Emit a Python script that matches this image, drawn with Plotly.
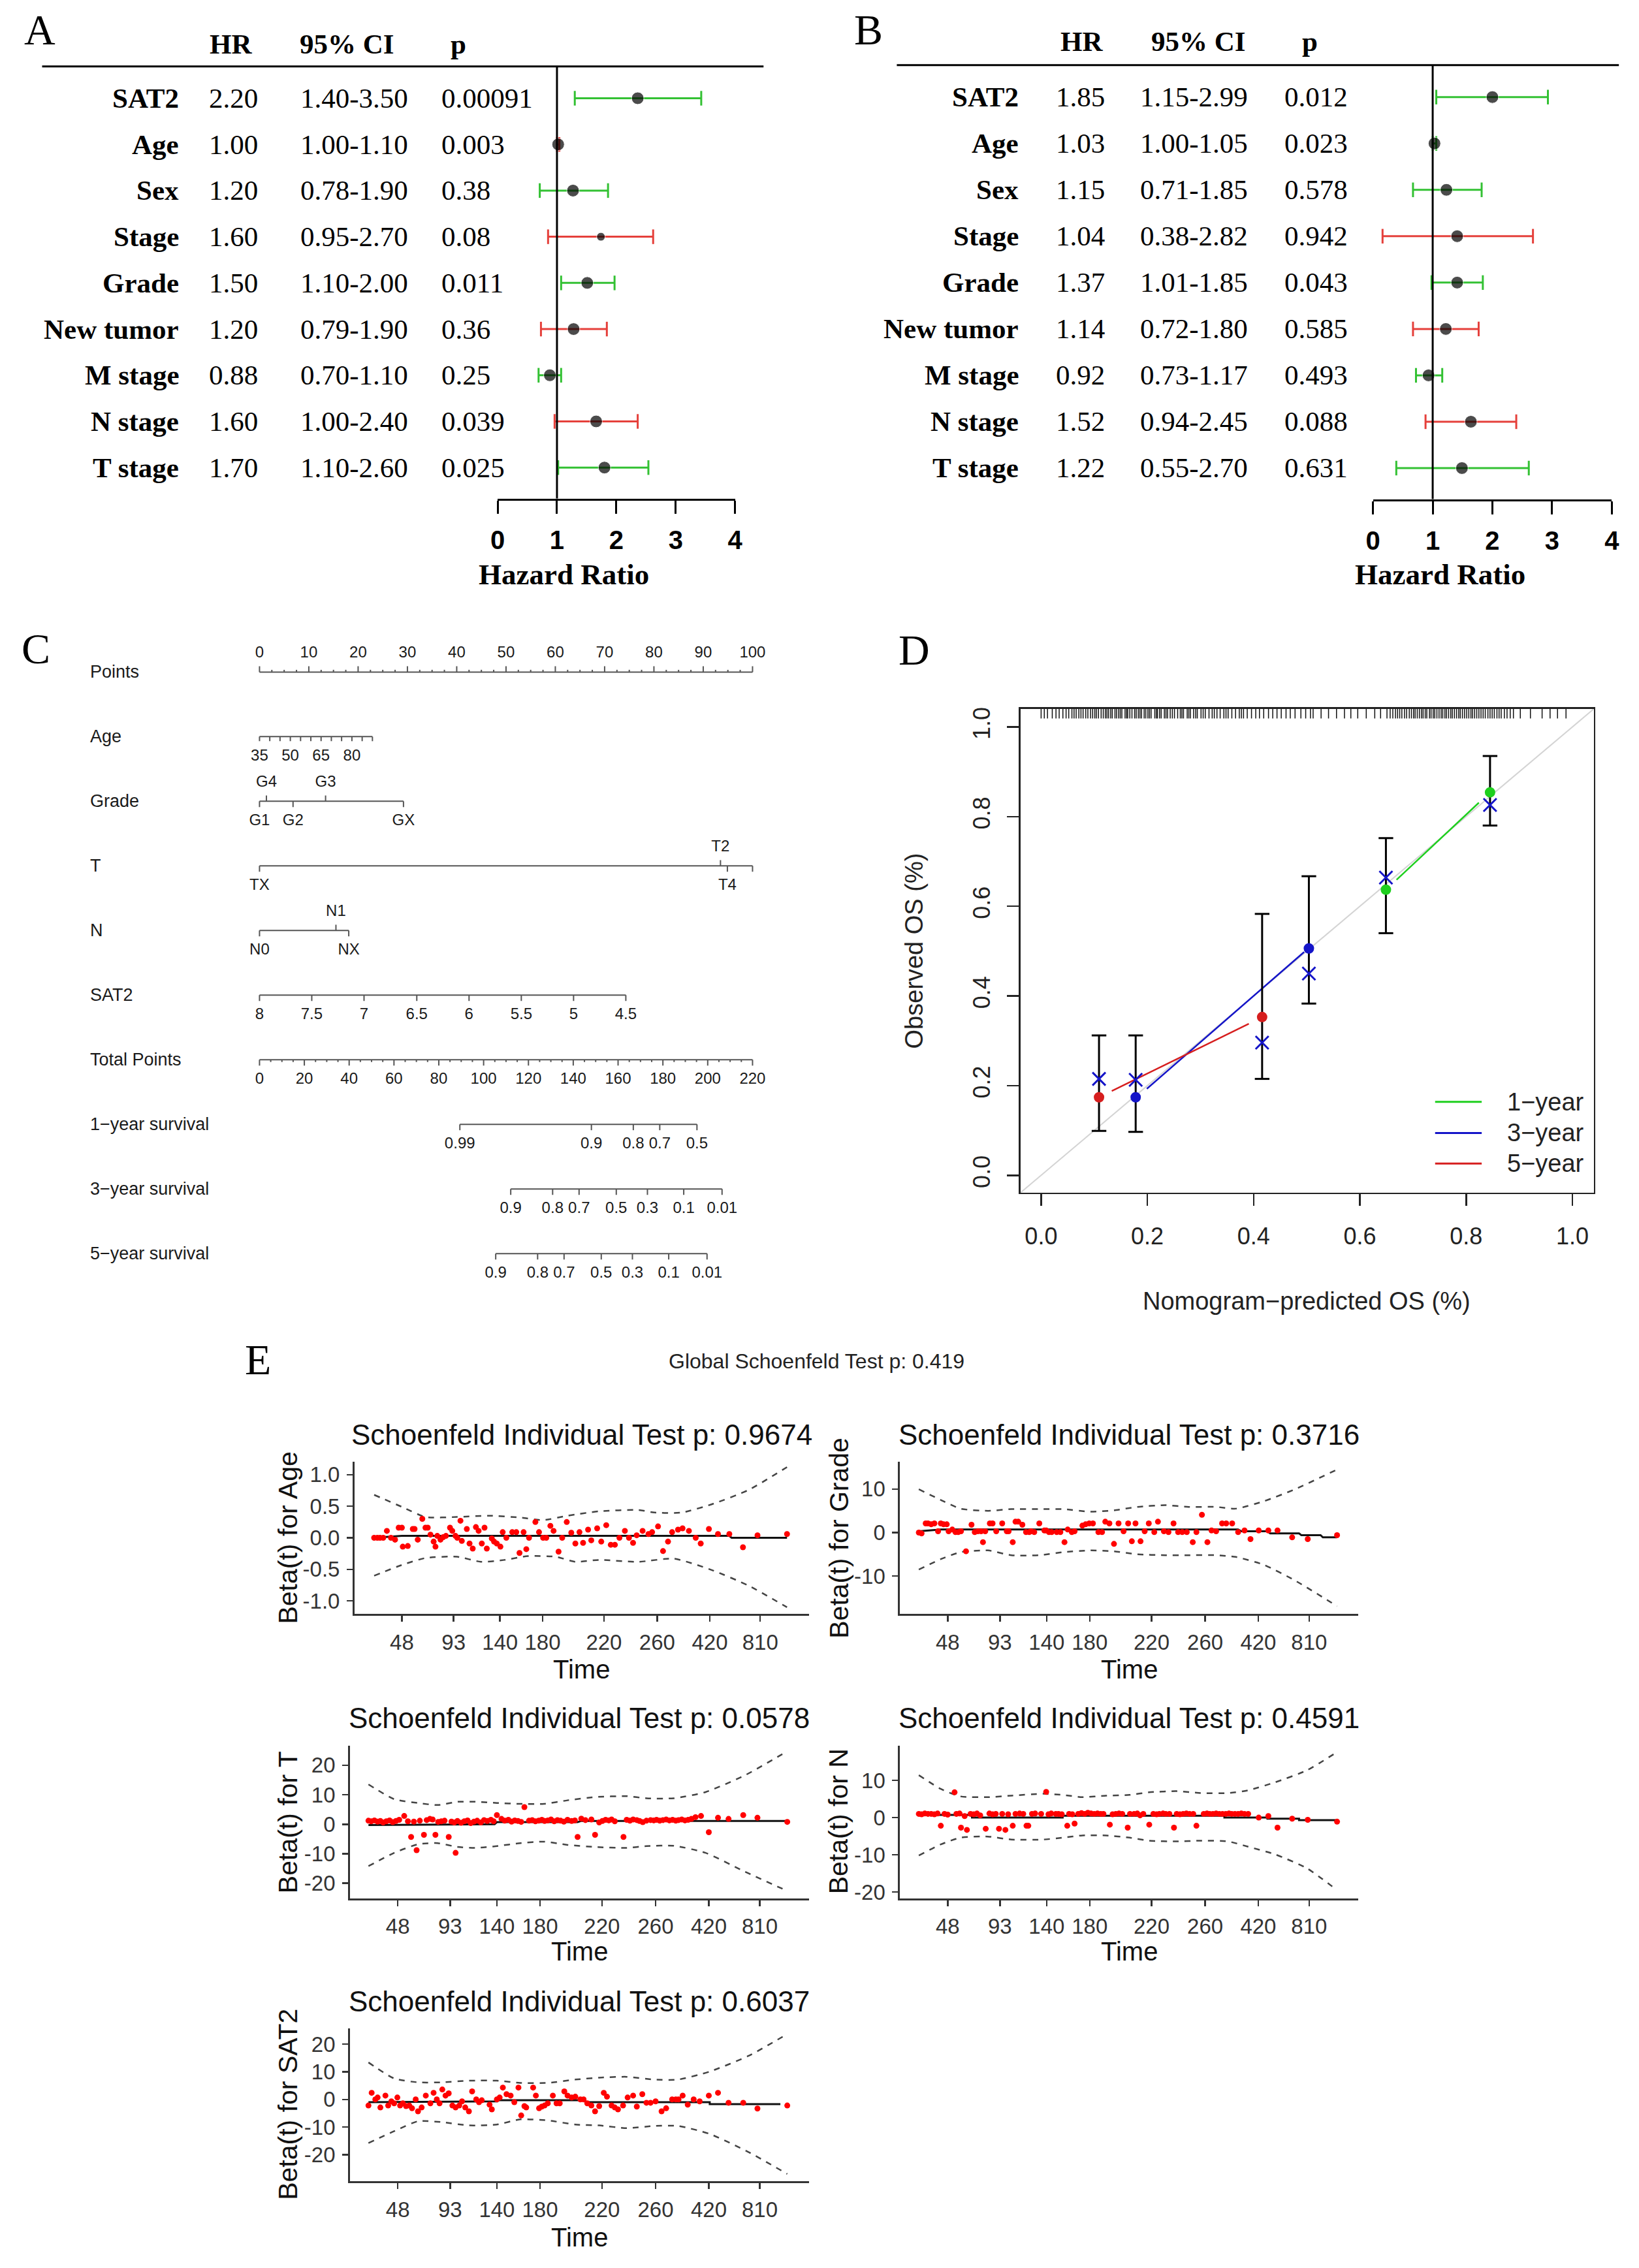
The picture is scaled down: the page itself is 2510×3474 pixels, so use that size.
import plotly.graph_objects as go

W, H = 2510, 3474
SERIF = "Liberation Serif, Times New Roman, serif"
SANS = "Liberation Sans, Arial, sans-serif"

# ======================= DATA =======================
# ---- Panels A / B : forest plots ----
forest_vars = ["SAT2", "Age", "Sex", "Stage", "Grade", "New tumor", "M stage", "N stage", "T stage"]
hr_ticks = [0, 1, 2, 3, 4]

A_hr_text = ["2.20", "1.00", "1.20", "1.60", "1.50", "1.20", "0.88", "1.60", "1.70"]
A_ci_text = ["1.40-3.50", "1.00-1.10", "0.78-1.90", "0.95-2.70", "1.10-2.00", "0.79-1.90", "0.70-1.10", "1.00-2.40", "1.10-2.60"]
A_p_text = ["0.00091", "0.003", "0.38", "0.08", "0.011", "0.36", "0.25", "0.039", "0.025"]
A_est = [2.36, 1.02, 1.27, 1.74, 1.51, 1.28, 0.88, 1.66, 1.80]
A_lo = [1.30, 1.00, 0.71, 0.85, 1.07, 0.73, 0.69, 0.96, 1.02]
A_hi = [3.43, 1.04, 1.86, 2.62, 1.97, 1.84, 1.07, 2.36, 2.54]
A_sig = ["g", "r", "g", "r", "g", "r", "g", "r", "g"]

B_hr_text = ["1.85", "1.03", "1.15", "1.04", "1.37", "1.14", "0.92", "1.52", "1.22"]
B_ci_text = ["1.15-2.99", "1.00-1.05", "0.71-1.85", "0.38-2.82", "1.01-1.85", "0.72-1.80", "0.73-1.17", "0.94-2.45", "0.55-2.70"]
B_p_text = ["0.012", "0.023", "0.578", "0.942", "0.043", "0.585", "0.493", "0.088", "0.631"]
B_est = [2.00, 1.03, 1.23, 1.41, 1.41, 1.22, 0.93, 1.64, 1.49]
B_lo = [1.06, 1.00, 0.67, 0.16, 0.98, 0.67, 0.72, 0.88, 0.39]
B_hi = [2.93, 1.06, 1.82, 2.68, 1.84, 1.77, 1.16, 2.40, 2.61]
B_sig = ["g", "g", "g", "r", "g", "r", "g", "r", "g"]

# ---- Panel C : nomogram ----
nomo_rows = ["Points", "Age", "Grade", "T", "N", "SAT2", "Total Points",
             "1\u2212year survival", "3\u2212year survival", "5\u2212year survival"]
points_major = [0, 10, 20, 30, 40, 50, 60, 70, 80, 90, 100]
age_vals = [35, 40, 45, 50, 55, 60, 65, 70, 75, 80, 85, 90]
age_pts = [0, 2.08, 4.16, 6.25, 8.33, 10.41, 12.49, 14.57, 16.65, 18.74, 20.82, 22.9]
age_labelled = [35, 50, 65, 80]
grade_levels = ["G1", "G4", "G2", "G3", "GX"]
grade_pts = [0, 1.4, 6.8, 13.4, 29.2]
t_levels = ["TX", "T2", "T4", ""]
t_pts = [0, 93.5, 94.9, 100]
n_levels = ["N0", "N1", "NX"]
n_pts = [0, 15.5, 18.1]
sat2_vals = ["8", "7.5", "7", "6.5", "6", "5.5", "5", "4.5"]
sat2_pts = [0, 10.6, 21.2, 31.9, 42.5, 53.1, 63.7, 74.3]
total_major = [0, 20, 40, 60, 80, 100, 120, 140, 160, 180, 200, 220]
surv1_lab = ["0.99", "0.9", "0.8", "0.7", "0.5"]
surv1_tp = [89.4, 148.1, 166.8, 178.6, 195.2]
surv3_lab = ["0.9", "0.8", "0.7", "0.5", "0.3", "0.1", "0.01"]
surv3_tp = [112.1, 130.8, 142.6, 159.2, 173.1, 189.3, 206.4]
surv5_lab = ["0.9", "0.8", "0.7", "0.5", "0.3", "0.1", "0.01"]
surv5_tp = [105.4, 124.1, 135.9, 152.5, 166.4, 182.6, 199.7]

# ---- Panel D : calibration ----
cal_ticks = [0.0, 0.2, 0.4, 0.6, 0.8, 1.0]
cal_labels = ["1\u2212year", "3\u2212year", "5\u2212year"]
cal1_pred = [0.649, 0.845]; cal1_obs = [0.637, 0.854]
cal1_lo = [0.540, 0.780]; cal1_hi = [0.752, 0.935]; cal1_corr = [0.664, 0.826]
cal1_line_x = [0.669, 0.824]; cal1_line_y = [0.659, 0.831]
cal3_pred = [0.178, 0.504]; cal3_obs = [0.174, 0.506]
cal3_lo = [0.097, 0.383]; cal3_hi = [0.312, 0.667]; cal3_corr = [0.213, 0.450]
cal3_line_x = [0.199, 0.495]; cal3_line_y = [0.193, 0.498]
cal5_pred = [0.109, 0.416]; cal5_obs = [0.174, 0.353]
cal5_lo = [0.099, 0.215]; cal5_hi = [0.312, 0.583]; cal5_corr = [0.215, 0.296]
cal5_line_x = [0.133, 0.391]; cal5_line_y = [0.188, 0.338]
cal_rug = [0.000, 0.006, 0.012, 0.021, 0.028, 0.034, 0.041, 0.047, 0.052, 0.058, 0.062, 0.066, 0.071, 0.075,
           0.079, 0.084, 0.088, 0.093, 0.097, 0.101, 0.104, 0.108, 0.113, 0.117, 0.121, 0.124, 0.127, 0.131,
           0.134, 0.139, 0.142, 0.146, 0.149, 0.152, 0.158, 0.161, 0.163, 0.167, 0.171, 0.176, 0.179, 0.183,
           0.186, 0.189, 0.194, 0.197, 0.201, 0.204, 0.207, 0.214, 0.217, 0.219, 0.223, 0.226, 0.232, 0.235,
           0.238, 0.243, 0.247, 0.251, 0.257, 0.262, 0.265, 0.268, 0.275, 0.278, 0.281, 0.287, 0.291, 0.294,
           0.301, 0.305, 0.309, 0.316, 0.322, 0.326, 0.331, 0.337, 0.344, 0.348, 0.352, 0.359, 0.366, 0.373,
           0.377, 0.381, 0.388, 0.396, 0.404, 0.411, 0.419, 0.428, 0.436, 0.444, 0.452, 0.461, 0.469, 0.478,
           0.489, 0.498, 0.507, 0.512, 0.527, 0.541, 0.556, 0.571, 0.583, 0.596, 0.612, 0.628, 0.639, 0.651,
           0.657, 0.662, 0.667, 0.671, 0.675, 0.679, 0.684, 0.688, 0.693, 0.697, 0.701, 0.704, 0.708, 0.712,
           0.716, 0.719, 0.723, 0.726, 0.731, 0.734, 0.738, 0.741, 0.745, 0.749, 0.753, 0.756, 0.760, 0.763,
           0.767, 0.771, 0.774, 0.778, 0.782, 0.786, 0.789, 0.793, 0.797, 0.801, 0.805, 0.809, 0.812, 0.816,
           0.820, 0.824, 0.828, 0.832, 0.836, 0.841, 0.845, 0.849, 0.853, 0.858, 0.862, 0.866, 0.872, 0.877,
           0.883, 0.889, 0.902, 0.921, 0.943, 0.958, 0.972, 0.988]

# ---- Panel E : Schoenfeld residuals (x = transformed time, 0-100) ----
E_tick_pos = [10.4, 21.8, 32.0, 41.4, 54.9, 66.6, 78.2, 89.3]
E_tick_txt = ["48", "93", "140", "180", "220", "260", "420", "810"]
E_global_p = "0.419"

E1_p = "0.9674"
E1_t = [4.3, 5.0, 5.6, 6.3, 7.1, 8.0, 8.9, 9.7, 10.4, 10.6, 11.7, 12.8, 13.2, 13.9, 14.9, 15.6, 16.1, 16.7,
        17.4, 17.8, 18.2, 18.9, 19.5, 20.1, 21.0, 21.5, 22.2, 22.6, 23.3, 23.6, 24.7, 25.3, 26.0, 26.7, 27.3,
        28.0, 28.6, 29.1, 30.2, 30.7, 31.3, 32.1, 32.6, 33.4, 34.7, 35.6, 36.3, 37.2, 37.8, 38.4, 39.8, 40.6,
        41.5, 42.2, 43.1, 43.8, 44.9, 45.7, 46.7, 47.7, 48.6, 49.5, 50.3, 51.4, 52.1, 53.4, 54.3, 55.4, 56.4,
        57.3, 58.3, 59.5, 60.4, 61.3, 62.1, 63.4, 64.7, 65.5, 66.8, 67.9, 69.0, 69.9, 71.2, 72.2, 73.6, 75.1,
        76.2, 78.0, 80.0, 82.5, 85.5, 88.7, 95.2]
E1_b = [0, 0, 0, 0, 0.11, 0, -0.03, 0.16, 0.16, -0.14, -0.13, 0.14, 0.14, -0.03, 0.30, 0.16, 0.16, 0.05,
        -0.06, -0.14, 0.03, -0.03, 0.01, 0.03, 0.16, 0.11, 0.03, 0, 0.27, -0.05, 0.14, -0.09, -0.17, 0.17, 0.11,
        -0.09, 0.16, -0.17, -0.01, -0.06, -0.09, -0.14, 0.09, 0, 0.09, 0.09, -0.24, 0.09, -0.18, 0, 0.25, 0.09,
        0, 0, 0.19, 0.11, -0.22, 0, 0.25, 0.08, -0.09, 0.09, -0.08, 0.13, -0.04, 0.15, -0.06, 0.20, -0.11,
        -0.11, 0, 0.11, 0, -0.08, 0.04, 0.11, 0.06, 0.09, 0.18, -0.21, -0.06, 0.09, 0.13, 0.15, 0.11, 0,
        -0.09, 0.14, 0.06, 0.06, -0.15, 0.04, 0.06]
E1_fit_t = [4.3, 10.4, 82.5, 83.0, 95.2]
E1_fit_b = [0.0, 0.03, 0.03, 0.0, 0.0]
E1_up_t = [4.3, 10.4, 15.6, 22.6, 29.5, 36.5, 41.5, 46.9, 53.8, 62.5, 66.0, 72.0, 79.0, 86.8, 95.2]
E1_up_b = [0.68, 0.49, 0.33, 0.33, 0.35, 0.32, 0.28, 0.35, 0.42, 0.44, 0.40, 0.40, 0.54, 0.76, 1.12]
E1_lo_t = [4.3, 10.4, 15.6, 22.6, 27.8, 33.0, 38.2, 44.3, 48.6, 53.8, 62.5, 70.3, 79.0, 86.8, 95.2]
E1_lo_b = [-0.60, -0.43, -0.32, -0.30, -0.38, -0.35, -0.29, -0.30, -0.38, -0.35, -0.38, -0.33, -0.52, -0.76, -1.10]

E2_p = "0.3716"
E2_pts = [(4.1, 0), (4.7, -0.2), (5.6, 2.1), (6.1, 2.1), (6.8, 1.9), (7.5, 2.1), (8.3, 0.3), (8.9, 2.1),
          (9.5, 1.9), (10.2, 1.9), (10.6, 0.3), (11.4, 0.7), (12.1, 0.1), (12.7, 0.1), (13.3, 0.3), (14.4, -4.3),
          (15.6, 1.8), (16.3, 0.1), (17.0, 0.3), (17.7, 0.3), (18.1, -2.2), (18.6, 0.3), (19.6, 2.1), (20.2, 2.1),
          (21.0, 0.3), (22.3, 2.1), (23.3, 0.3), (23.7, 0.3), (24.6, -2.2), (25.2, 2.5), (25.8, 2.5), (26.7, 1.8),
          (27.5, 0.1), (28.2, 0.1), (28.6, 0.3), (29.3, 0.1), (30.4, 2.1), (31.5, 0.5), (31.9, 0.5), (32.5, 0.1),
          (33.1, 0.1), (34.2, 0.1), (35.0, 0.1), (35.9, -2.2), (36.6, 0.7), (37.5, 0.1), (38.1, 0.3), (39.8, 1.6),
          (40.5, 1.9), (41.3, 2.1), (42.1, 2.1), (43.3, 0.1), (44.1, 0.1), (44.8, 2.5), (45.7, 2.1), (46.7, -2.6),
          (47.7, 2.1), (48.8, 0.3), (49.8, 2.1), (50.6, -2.0), (51.4, 2.1), (52.5, -2.0), (53.4, 0.3), (54.3, 2.1),
          (55.5, 0.1), (56.3, 2.5), (57.6, 0.3), (58.6, 0.1), (59.7, 2.1), (60.7, 0.1), (61.6, 0.1), (62.6, 0.1),
          (63.9, -2.2), (64.7, 0.1), (65.9, 4.1), (67.1, -2.2), (68.0, 0.5), (69.0, 0.3), (70.3, 2.1), (71.2, 2.1),
          (72.5, 2.1), (73.8, 0.1), (75.2, 0.5), (76.5, -1.5), (78.3, 0.5), (80.4, 0.5), (82.4, 0.5), (85.6, -1.1),
          (89.0, -1.5), (95.4, -0.6)]
E2_fit_t = [4.1, 9.0, 73.8, 74.5, 80.2, 80.8, 87.1, 87.6, 91.8, 92.3, 95.4]
E2_fit_b = [0.3, 0.7, 0.7, 0.3, 0.3, -0.2, -0.2, -0.6, -0.6, -1.1, -1.1]
E2_band_t = [4.1, 8.9, 13.2, 19.2, 24.3, 30.4, 35.5, 41.5, 46.7, 51.8, 57.9, 63.0, 69.0, 73.3, 79.4, 86.2, 95.4]
E2_up_b = [9.95, 7.5, 5.5, 5.0, 5.4, 5.4, 5.4, 4.8, 5.1, 5.9, 6.3, 5.9, 5.9, 5.5, 7.2, 9.95, 14.5]
E2_lo_b = [-8.5, -6.1, -4.5, -4.1, -5.2, -5.2, -4.5, -4.1, -4.3, -5.0, -5.2, -5.2, -5.2, -5.6, -7.4, -11.0, -16.9]

E3_p = "0.0578"
E3_pts = [(4.0, 1.2), (4.6, 1.0), (5.3, 1.3), (6.0, 0.9), (6.6, 1.1), (7.2, 0.6), (7.9, 1.0), (8.6, 1.3),
          (9.3, 0.7), (10.0, 1.1), (10.7, 1.5), (11.8, 2.8), (12.6, 1.0), (13.3, -4.3), (13.9, 0.9), (14.5, -8.8),
          (15.2, 1.2), (16.1, -3.6), (16.7, 1.4), (17.4, 1.8), (18.0, 1.6), (18.6, -3.6), (19.2, 0.8), (19.9, 1.0),
          (20.6, 1.2), (21.5, -4.3), (22.1, 0.9), (22.7, 0.6), (23.0, -9.7), (23.4, 1.1), (24.2, 0.5), (24.9, 1.0),
          (25.6, 1.3), (26.3, 0.4), (27.0, 0.9), (27.7, 1.2), (28.5, 0.6), (29.2, 1.4), (29.9, 1.1), (30.7, 1.5),
          (31.3, 1.0), (32.0, 3.1), (33.0, 1.8), (33.7, 1.2), (34.5, 1.5), (35.2, 0.9), (35.9, 1.3), (36.6, 1.1),
          (37.3, 0.8), (38.0, 5.8), (39.0, 1.2), (39.7, 1.4), (40.4, 1.0), (41.1, 1.2), (41.8, 1.5), (42.4, 1.1),
          (43.1, 1.3), (43.8, 1.6), (44.5, 1.0), (45.2, 1.4), (45.9, 1.2), (46.6, 0.9), (47.4, 1.5), (48.3, 1.1),
          (49.0, 1.3), (49.6, -4.3), (50.4, 1.9), (51.3, 1.4), (52.6, 1.6), (53.4, -3.6), (54.3, 0.6), (55.0, 1.1),
          (55.7, 1.5), (56.4, 1.3), (57.0, 1.6), (57.7, 1.0), (59.6, -4.3), (60.3, 1.5), (61.0, 1.2), (61.7, 1.6),
          (62.5, 1.4), (63.1, 1.1), (63.8, 0.7), (64.6, 1.2), (65.5, 1.4), (66.2, 1.3), (66.8, 1.5), (67.5, 1.2),
          (68.2, 1.4), (68.9, 1.6), (69.6, 1.3), (70.3, 1.5), (71.0, 1.2), (71.6, 1.4), (72.3, 1.6), (73.0, 1.3),
          (73.7, 1.5), (74.4, 1.8), (75.3, 2.4), (76.5, 2.8), (78.2, -2.7), (80.2, 2.2), (82.5, 1.8), (85.7, 3.1),
          (88.8, 2.2), (95.3, 0.8)]
E3_fit_t = [4.0, 31.5, 32.0, 49.6, 50.3, 95.3]
E3_fit_b = [-0.3, 0.0, 0.7, 0.7, 1.1, 1.1]
E3_band_t = [4.0, 9.6, 14.8, 19.1, 23.4, 27.7, 32.0, 37.1, 42.3, 47.4, 53.4, 60.3, 64.6, 70.6, 77.5, 86.1, 95.3]
E3_up_b = [13.5, 8.5, 7.2, 6.5, 7.6, 7.6, 7.2, 6.9, 6.9, 8.1, 9.2, 9.5, 8.8, 8.8, 10.9, 16.6, 24.7]
E3_lo_b = [-14.2, -9.7, -6.8, -6.4, -7.7, -8.0, -7.4, -6.4, -5.9, -7.0, -7.7, -8.0, -7.4, -7.3, -9.7, -16.1, -22.6]

E4_p = "0.4591"
E4_pts = [(4.1, 1.0), (4.7, 0.9), (5.4, 1.1), (6.1, 1.0), (6.8, 1.0), (7.5, 0.9), (8.2, 1.1), (9.7, 1.0),
          (10.4, 0.8), (12.3, 1.0), (13.0, 1.1), (14.1, 0.4), (15.4, 1.0), (16.1, 0.9), (16.8, 1.1), (17.5, 0.6),
          (19.5, 1.1), (20.2, 0.9), (20.9, 1.0), (22.3, 1.0), (23.6, 0.9), (25.2, 1.0), (26.1, 1.1), (26.9, 1.0),
          (28.8, 1.0), (29.5, 1.1), (30.8, 1.0), (32.4, 0.9), (33.0, 1.1), (34.0, 1.0), (34.6, 1.0), (35.3, 0.9),
          (36.9, 1.0), (37.6, 0.9), (38.9, 1.0), (39.6, 1.2), (40.3, 1.0), (41.0, 1.3), (41.7, 1.1), (42.4, 1.0),
          (43.1, 1.1), (43.8, 1.0), (44.4, 1.0), (46.4, 0.9), (47.1, 1.0), (47.8, 1.1), (48.5, 1.0), (50.2, 1.0),
          (51.1, 1.0), (51.8, 1.1), (52.4, 0.6), (53.1, 1.0), (55.3, 1.0), (56.0, 0.9), (56.6, 1.0), (57.4, 1.1),
          (58.0, 1.0), (58.8, 1.0), (60.4, 1.0), (61.1, 0.9), (61.8, 1.0), (62.5, 1.1), (63.2, 1.0), (64.0, 1.0),
          (66.3, 1.0), (67.0, 1.1), (67.6, 1.0), (68.3, 1.0), (69.0, 1.1), (69.7, 1.0), (70.4, 1.0), (71.1, 1.0),
          (71.8, 1.1), (72.4, 1.0), (73.1, 1.0), (73.8, 1.0), (74.5, 1.1), (75.2, 1.0), (76.0, 1.0),
          (8.9, -2.2), (11.9, 6.8), (13.3, -2.7), (14.6, -3.3), (18.7, -3.0), (21.6, -3.0), (23.0, -3.3),
          (24.6, -2.2), (27.6, -2.2), (28.0, -2.2), (31.9, 6.9), (36.5, -2.2), (38.1, -1.6), (45.8, -1.9),
          (49.7, -2.7), (54.4, -1.9), (59.8, -2.7), (64.7, -2.2), (78.3, 0.0), (80.4, 0.4), (82.4, -2.7),
          (85.6, -0.3), (89.0, -0.6), (95.4, -1.1)]
E4_fit_t = [4.1, 15.7, 15.7, 35.5, 35.5, 70.8, 70.8, 80.2, 80.2, 87.1, 87.1, 95.4]
E4_fit_b = [0.7, 0.7, 0.0, 0.0, 0.5, 0.5, 0.0, 0.0, -0.3, -0.3, -0.7, -0.7]
E4_band_t = [4.1, 8.9, 13.2, 19.2, 24.3, 31.2, 35.5, 39.8, 45.0, 50.1, 54.4, 60.4, 65.6, 71.6, 75.9, 81.9, 88.8, 95.4]
E4_up_b = [11.4, 7.7, 5.7, 5.5, 5.9, 6.4, 6.1, 5.5, 5.9, 6.1, 6.8, 7.1, 6.6, 6.6, 7.3, 9.5, 12.7, 17.6]
E4_lo_b = [-10.2, -7.2, -5.4, -5.1, -5.9, -5.9, -5.4, -4.8, -4.8, -5.4, -6.2, -6.4, -6.2, -6.4, -7.8, -9.9, -13.6, -19.5]

E5_p = "0.6037"
E5_pts = [(4.0, -2.2), (4.7, 2.4), (5.5, 0), (6.0, 0.7), (6.6, -2.9), (7.7, 1.4), (8.3, -2.2), (9.0, -0.7),
          (9.6, -1.4), (10.3, 0.7), (10.9, -2.2), (11.5, -1.4), (12.2, -2.4), (12.9, -2.2), (13.5, -3.2), (14.3, 0),
          (14.8, -4.3), (15.6, -2.9), (16.5, 1.4), (17.5, -1.4), (18.2, 2.4), (18.9, 0), (19.5, -1.4), (20.1, 3.6),
          (20.8, 1.4), (21.5, 2.2), (22.3, -2.2), (23.0, -2.9), (23.8, -2.2), (24.4, -0.7), (25.1, -2.9),
          (25.9, -4.3), (26.6, 2.9), (27.5, 0), (28.1, -1.0), (28.7, -0.3), (30.4, -1.9), (30.9, -3.6), (32.0, 0),
          (32.6, 0.7), (33.3, 4.3), (34.1, 1.9), (35.0, 1.4), (35.8, -1.0), (36.7, 4.3), (37.3, -5.8), (38.0, -2.4),
          (38.4, -2.9), (39.9, 4.3), (40.5, 1.4), (41.2, -3.2), (41.8, -2.6), (42.4, -2.2), (43.1, -1.4), (44.2, 1.4),
          (45.0, -1.4), (45.7, -1.4), (46.7, 2.9), (47.4, 1.4), (48.3, 0.7), (49.1, 1.0), (50.2, 0), (50.9, 0),
          (51.7, -1.4), (52.6, -2.2), (53.4, -4.3), (54.3, -2.4), (55.3, 2.4), (56.0, 1.0), (57.0, -2.2),
          (57.7, -2.9), (58.4, -3.6), (59.5, -2.2), (60.5, 0.7), (61.7, 1.4), (62.5, -2.6), (63.7, 1.9),
          (64.6, -1.2), (65.5, -1.2), (66.6, -0.7), (67.9, -4.3), (68.9, -3.2), (70.2, 0), (71.0, 0), (71.6, 0),
          (72.5, 1.4), (73.6, -1.9), (74.9, 0), (76.2, -0.7), (78.2, 1.4), (80.2, 2.4), (82.5, -1.2), (85.7, -1.2),
          (88.8, -3.3), (95.3, -2.2)]
E5_fit_t = [4.0, 32.0, 32.0, 51.3, 51.3, 78.4, 78.4, 93.8]
E5_fit_b = [-1.0, -0.7, -0.3, -0.3, -1.0, -1.0, -1.7, -1.7]
E5_band_t = [4.0, 9.6, 14.8, 19.9, 25.9, 32.0, 37.1, 43.1, 49.1, 54.3, 60.3, 66.3, 71.5, 78.4, 86.9, 95.3]
E5_up_b = [13.4, 7.6, 6.2, 6.2, 6.8, 6.8, 6.0, 6.0, 7.2, 7.9, 8.2, 7.2, 7.2, 10.1, 15.8, 23.7]
E5_lo_b = [-15.8, -11.5, -7.9, -8.2, -9.4, -9.1, -7.2, -7.6, -9.1, -9.4, -10.4, -9.6, -9.6, -12.5, -19.1, -27.0]

# ======================= STYLE / HELPERS =======================
GREEN = "#33c133"
RED = "#e5403b"
D_GREEN = "#1ecf1e"
D_BLUE = "#1414c8"
D_RED = "#d61e1e"
NOMO = "#555555"

fig = go.Figure()
ann, shp, lay = [], [], {}


def fx(p):
    return p / W


def fy(p):
    return 1 - p / H


def dx(l, r):
    return [l / W, r / W]


def dy(t, b):
    return [1 - b / H, 1 - t / H]


def names(n):
    s = "" if n == 1 else str(n)
    return "x" + s, "y" + s, "xaxis" + s, "yaxis" + s


def text(x, y, s, size, family=SANS, color="black", xanchor="center", yanchor="middle",
         bold=False, angle=0, xref="paper", yref="paper"):
    ann.append(dict(x=x, y=y, xref=xref, yref=yref, text=s, showarrow=False, xanchor=xanchor,
                    yanchor=yanchor, textangle=angle,
                    font=dict(family=family, size=size, color=color, weight="bold" if bold else "normal")))


def add(tr):
    tr.update(showlegend=False, hoverinfo="skip")
    fig.add_trace(tr)


# ======================= PANELS A / B =======================
def forest(n, est, lo, hi, sig, hr_t, ci_t, p_t, g, dot_sizes):
    xa, ya, xk, yk = names(n)
    rows = list(range(1, len(forest_vars) + 1))
    lay[xk] = dict(domain=dx(g["x0"], g["x4"]), range=[0, 4], anchor=ya, showline=True,
                   linecolor="black", linewidth=3, ticks="outside", ticklen=20, tickwidth=3,
                   tickcolor="black", tickvals=hr_ticks, ticklabelstandoff=6,
                   tickfont=dict(family=SANS, size=40, color="black", weight="bold"),
                   showgrid=False, zeroline=False)
    lay[yk] = dict(domain=dy(g["top"], g["bot"]), range=[9.67, 0.31], anchor=xa, visible=False)
    shp.append(dict(type="line", xref=xa, yref=f"{ya} domain", x0=1, x1=1, y0=0, y1=1,
                    line=dict(color="black", width=3)))
    shp.append(dict(type="line", xref="paper", yref="paper", x0=fx(g["rule_l"]), x1=fx(g["rule_r"]),
                    y0=fy(g["top"]), y1=fy(g["top"]), line=dict(color="black", width=3)))
    for key, colr in (("g", GREEN), ("r", RED)):
        idx = [i for i, c in enumerate(sig) if c == key]
        lx, ly = [], []
        for i in idx:
            lx += [lo[i], hi[i], None]
            ly += [rows[i], rows[i], None]
        add(go.Scatter(x=lx, y=ly, mode="lines", line=dict(color=colr, width=3), xaxis=xa, yaxis=ya))
        add(go.Scatter(x=[lo[i] for i in idx] + [hi[i] for i in idx], y=[rows[i] for i in idx] * 2,
                       mode="markers", marker=dict(symbol="line-ns", size=16, line=dict(color=colr, width=3)),
                       xaxis=xa, yaxis=ya, cliponaxis=False))
    add(go.Scatter(x=est, y=rows, mode="markers", marker=dict(color="black", size=dot_sizes),
                   xaxis=xa, yaxis=ya, cliponaxis=False))
    for i, r in enumerate(rows):
        text(fx(g["lab_r"]), r, forest_vars[i], 43, SERIF, xanchor="right", bold=True, yref=ya)
        text(fx(g["hr_c"]), r, hr_t[i], 43, SERIF, yref=ya)
        text(fx(g["ci_c"]), r, ci_t[i], 43, SERIF, yref=ya)
        text(fx(g["p_l"]), r, p_t[i], 43, SERIF, xanchor="left", yref=ya)
    text(fx(g["hh_c"]), fy(g["head_y"]), "HR", 43, SERIF, bold=True)
    text(fx(g["hci_c"]), fy(g["head_y"]), "95% CI", 43, SERIF, bold=True)
    text(fx(g["hp_c"]), fy(g["head_y"]), "p", 43, SERIF, bold=True)
    text(fx(g["title_x"]), fy(881), "Hazard Ratio", 45, SERIF, bold=True)
    text(fx(g["letter_x"]), fy(44), g["letter"], 66, SERIF)


geoA = dict(x0=758, x4=1125, top=100, bot=764, rule_l=54, rule_r=1169, lab_r=267, hr_c=350, ci_c=536,
            p_l=669, hh_c=346, hci_c=525, hp_c=697, head_y=66, title_x=860, letter_x=50, letter="A")
geoB = dict(x0=2111, x4=2480, top=98, bot=765, rule_l=1375, rule_r=2491, lab_r=1565, hr_c=1659, ci_c=1834,
            p_l=1972, hh_c=1661, hci_c=1841, hp_c=2013, head_y=62, title_x=2215, letter_x=1331, letter="B")
A_sizes = [19, 19, 19, 13, 19, 19, 19, 19, 19]
B_sizes = [19] * 9
forest(1, A_est, A_lo, A_hi, A_sig, A_hr_text, A_ci_text, A_p_text, geoA, A_sizes)
forest(2, B_est, B_lo, B_hi, B_sig, B_hr_text, B_ci_text, B_p_text, geoB, B_sizes)

# ======================= PANEL C =======================
PX0, PX100 = 390, 1152
unit = (PX100 - PX0) / 100
lay["xaxis3"] = dict(domain=dx(PX0 - 2 * unit, PX100 + 2 * unit), range=[-2, 102], anchor="y3", visible=False)
lay["xaxis4"] = dict(overlaying="x3", range=[-4.4, 224.4], anchor="y3", visible=False)
lay["yaxis3"] = dict(domain=dy(981, 1974), range=[9.5, -0.5], anchor="x3", visible=False)


def nomo_row(xa, row, pos, labels, sides, tlen=0.09, minor=None, mlen=0.035, span=None):
    s0, s1 = span if span else (min(pos), max(pos))
    xs, ys = [s0, s1, None], [row, row, None]
    for p, sd in zip(pos, sides):
        d = -tlen if sd == "up" else tlen
        xs += [p, p, None]
        ys += [row, row + d, None]
    if minor:
        d = -mlen if sides[0] == "up" else mlen
        for p in minor:
            xs += [p, p, None]
            ys += [row, row + d, None]
    add(go.Scatter(x=xs, y=ys, mode="lines", line=dict(color=NOMO, width=2), xaxis=xa, yaxis="y3"))
    for sd, off in (("up", -0.29), ("down", 0.31)):
        sel = [(p, l) for p, l, s in zip(pos, labels, sides) if s == sd and l]
        if sel:
            add(go.Scatter(x=[p for p, _ in sel], y=[row + off] * len(sel), text=[l for _, l in sel],
                           mode="text", textfont=dict(family=SANS, size=24, color="#1a1a1a"),
                           xaxis=xa, yaxis="y3", cliponaxis=False))


nomo_row("x3", 0, points_major, [str(v) for v in points_major], ["up"] * len(points_major),
         tlen=0.09, minor=[v / 2 for v in range(0, 201, 5) if v % 20])
nomo_row("x3", 1, age_pts, [str(a) if a in age_labelled else "" for a in age_vals], ["down"] * len(age_vals),
         tlen=0.07)
nomo_row("x3", 2, grade_pts, grade_levels, ["down", "up", "down", "up", "down"])
nomo_row("x3", 3, t_pts, t_levels, ["down", "up", "down", "down"])
nomo_row("x3", 4, n_pts, n_levels, ["down", "up", "down"])
nomo_row("x3", 5, sat2_pts, sat2_vals, ["down"] * len(sat2_pts))
nomo_row("x4", 6, total_major, [str(v) for v in total_major], ["down"] * len(total_major),
         minor=[v for v in range(0, 221, 5) if v % 20])
nomo_row("x4", 7, surv1_tp, surv1_lab, ["down"] * len(surv1_tp))
nomo_row("x4", 8, surv3_tp, surv3_lab, ["down"] * len(surv3_tp))
nomo_row("x4", 9, surv5_tp, surv5_lab, ["down"] * len(surv5_tp))
for i, name in enumerate(nomo_rows):
    text(fx(126), i, name, 27, SANS, color="#1a1a1a", xanchor="left", yref="y3")
text(fx(44), fy(995), "C", 66, SERIF)

# ======================= PANEL D =======================
axis_d = dict(showline=True, mirror=True, linecolor="#222", linewidth=2.5, ticks="outside", ticklen=18,
              tickwidth=2.5, tickcolor="#222", tickvals=cal_ticks, ticktext=[f"{v:.1f}" for v in cal_ticks],
              tickfont=dict(family=SANS, size=36, color="#222"), showgrid=False, zeroline=False)
lay["xaxis5"] = dict(axis_d, domain=dx(1566, 2452), range=[-0.039, 1.040], anchor="y5", ticklabelstandoff=16)
lay["yaxis5"] = dict(axis_d, domain=dy(1087, 1830.5), range=[-0.0385, 1.0406], anchor="x5", tickangle=-90,
                     ticklabelstandoff=12)
add(go.Scatter(x=[-0.039, 1.040], y=[-0.039, 1.040], mode="lines", line=dict(color="#d4d4d4", width=2),
               xaxis="x5", yaxis="y5"))
rx, ry = [], []
for v in cal_rug:
    rx += [v, v, None]
    ry += [1.0406, 1.019, None]
add(go.Scatter(x=rx, y=ry, mode="lines", line=dict(color="#111", width=1.5), xaxis="x5", yaxis="y5"))
for lx_, ly_, c in ((cal1_line_x, cal1_line_y, D_GREEN), (cal3_line_x, cal3_line_y, D_BLUE),
                    (cal5_line_x, cal5_line_y, D_RED)):
    add(go.Scatter(x=lx_, y=ly_, mode="lines", line=dict(color=c, width=2.5), xaxis="x5", yaxis="y5"))
ex, ey, cx, cy = [], [], [], []
for pr, lo, hi in ((cal1_pred, cal1_lo, cal1_hi), (cal3_pred, cal3_lo, cal3_hi), (cal5_pred, cal5_lo, cal5_hi)):
    for p, a, b in zip(pr, lo, hi):
        ex += [p, p, None]
        ey += [a, b, None]
        cx += [p, p]
        cy += [a, b]
add(go.Scatter(x=ex, y=ey, mode="lines", line=dict(color="black", width=3), xaxis="x5", yaxis="y5"))
add(go.Scatter(x=cx, y=cy, mode="markers", marker=dict(symbol="line-ew", size=16, line=dict(color="black", width=3)),
               xaxis="x5", yaxis="y5"))
for pr, ob, c in ((cal1_pred, cal1_obs, D_GREEN), (cal3_pred, cal3_obs, D_BLUE), (cal5_pred, cal5_obs, D_RED)):
    add(go.Scatter(x=pr, y=ob, mode="markers", marker=dict(color=c, size=16), xaxis="x5", yaxis="y5"))
add(go.Scatter(x=cal1_pred + cal3_pred + cal5_pred, y=cal1_corr + cal3_corr + cal5_corr, mode="markers",
               marker=dict(symbol="x-thin", size=20, line=dict(color=D_BLUE, width=3)), xaxis="x5", yaxis="y5"))
for lab, c, ypx in zip(cal_labels, (D_GREEN, D_BLUE, D_RED), (1691, 1739, 1786)):
    shp.append(dict(type="line", xref="paper", yref="paper", x0=fx(2207), x1=fx(2279), y0=fy(ypx), y1=fy(ypx),
                    line=dict(color=c, width=3)))
    text(fx(2316), fy(ypx), lab, 38, SANS, color="#222", xanchor="left")
text(fx(2008), fy(1997), "Nomogram\u2212predicted OS (%)", 38, SANS, color="#222")
text(fx(1402), fy(1459), "Observed OS (%)", 38, SANS, color="#222", angle=-90)
text(fx(1402), fy(997), "D", 66, SERIF)

# ======================= PANEL E =======================
E_specs = [
    dict(n=6, x=(537, 1239), y=(2244, 2478), yr=[-1.206, 1.206], tv=[-1, -0.5, 0, 0.5, 1],
         tt=["-1.0", "-0.5", "0.0", "0.5", "1.0"], pts=list(zip(E1_t, E1_b)), fit=(E1_fit_t, E1_fit_b),
         up=(E1_up_t, E1_up_b), lo=(E1_lo_t, E1_lo_b), p=E1_p, var="Age", ylab_x=434, ylab_y=2361, time_y=2563),
    dict(n=7, x=(1380, 2088), y=(2244, 2478), yr=[-18.7, 16.3], tv=[-10, 0, 10], tt=["-10", "0", "10"],
         pts=E2_pts, fit=(E2_fit_t, E2_fit_b), up=(E2_band_t, E2_up_b), lo=(E2_band_t, E2_lo_b), p=E2_p,
         var="Grade", ylab_x=1285, ylab_y=2361, time_y=2563),
    dict(n=8, x=(530, 1239), y=(2680, 2915), yr=[-25.1, 26.7], tv=[-20, -10, 0, 10, 20],
         tt=["-20", "-10", "0", "10", "20"], pts=E3_pts, fit=(E3_fit_t, E3_fit_b), up=(E3_band_t, E3_up_b),
         lo=(E3_band_t, E3_lo_b), p=E3_p, var="T", ylab_x=434, ylab_y=2798, time_y=2996),
    dict(n=9, x=(1380, 2088), y=(2680, 2915), yr=[-21.7, 19.4], tv=[-20, -10, 0, 10],
         tt=["-20", "-10", "0", "10"], pts=E4_pts, fit=(E4_fit_t, E4_fit_b), up=(E4_band_t, E4_up_b),
         lo=(E4_band_t, E4_lo_b), p=E4_p, var="N", ylab_x=1285, ylab_y=2797, time_y=2996),
    dict(n=10, x=(530, 1239), y=(3115, 3350), yr=[-29.7, 25.7], tv=[-20, -10, 0, 10, 20],
         tt=["-20", "-10", "0", "10", "20"], pts=E5_pts, fit=(E5_fit_t, E5_fit_b), up=(E5_band_t, E5_up_b),
         lo=(E5_band_t, E5_lo_b), p=E5_p, var="SAT2", ylab_x=434, ylab_y=3232, time_y=3436),
]
for s in E_specs:
    xa, ya, xk, yk = names(s["n"])
    common = dict(showline=True, linecolor="#333", linewidth=3, ticks="outside", ticklen=9, tickwidth=2.5,
                  tickcolor="#333", tickfont=dict(family=SANS, size=33, color="#333"), showgrid=False,
                  zeroline=False)
    lay[xk] = dict(common, domain=dx(*s["x"]), range=[0, 100], anchor=ya, tickvals=E_tick_pos,
                   ticktext=E_tick_txt, ticklabelstandoff=3)
    lay[yk] = dict(common, domain=dy(*s["y"]), range=s["yr"], anchor=xa, tickvals=s["tv"],
                   ticktext=s["tt"], ticklabelstandoff=4)
    for band in (s["up"], s["lo"]):
        add(go.Scatter(x=band[0], y=band[1], mode="lines", line=dict(color="#444", width=2.5, dash="dash",
                                                                      shape="spline", smoothing=0.6),
                       xaxis=xa, yaxis=ya))
    add(go.Scatter(x=s["fit"][0], y=s["fit"][1], mode="lines", line=dict(color="#111", width=3),
                   xaxis=xa, yaxis=ya))
    add(go.Scatter(x=[p[0] for p in s["pts"]], y=[p[1] for p in s["pts"]], mode="markers",
                   marker=dict(color="#ff0000", size=9), xaxis=xa, yaxis=ya, cliponaxis=False))
    cxp = (s["x"][0] + s["x"][1]) / 2
    text(fx(cxp), fy(s["y"][0] - 42), f"Schoenfeld Individual Test p: {s['p']}", 44, SANS, color="#111")
    text(fx(s["ylab_x"]), fy(s["ylab_y"]), f"Beta(t) for {s['var']}", 41, SANS, color="#111", angle=-90)
    text(fx(cxp), fy(s["time_y"]), "Time", 40, SANS, color="#111")

text(fx(1251), fy(2090), f"Global Schoenfeld Test p: {E_global_p}", 32, SANS, color="#222")
text(fx(388), fy(2087), "E", 66, SERIF)

fig.update_layout(width=W, height=H, margin=dict(l=0, r=0, t=0, b=0), paper_bgcolor="white",
                  plot_bgcolor="white", showlegend=False, annotations=ann, shapes=shp, **lay)
fig.write_html("out.html", config={"displayModeBar": False, "staticPlot": True},
               post_script="document.body.style.margin='0px';document.body.style.overflow='hidden';")
